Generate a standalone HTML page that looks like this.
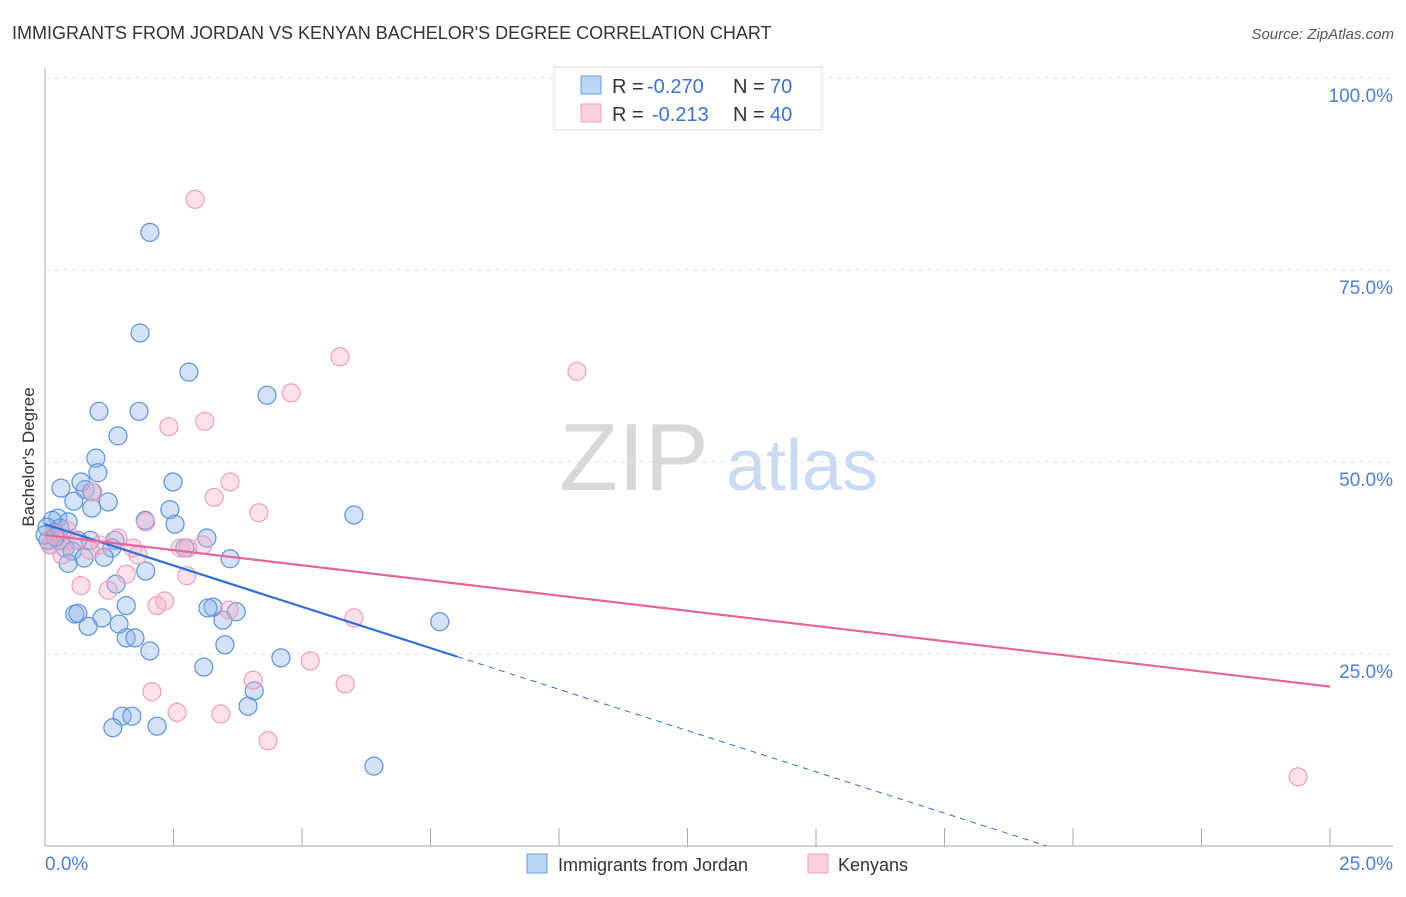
<!DOCTYPE html>
<html><head><meta charset="utf-8"><style>
body{margin:0;background:#fff;font-family:"Liberation Sans",sans-serif;}
svg text{font-family:"Liberation Sans",sans-serif;}
</style></head><body>
<svg id="chart" width="1406" height="892">
<text x="12" y="39" font-size="18" fill="#333">IMMIGRANTS FROM JORDAN VS KENYAN BACHELOR'S DEGREE CORRELATION CHART</text>
<text x="1394" y="39" font-size="15" fill="#555" font-style="italic" text-anchor="end">Source: ZipAtlas.com</text>
<g id="grid"></g>
<g>
<text x="634" y="490" font-size="96" fill="#d8d8d8" font-family="Liberation Serif" text-anchor="middle">ZIP</text>
<text x="802" y="490" font-size="72" fill="#c9daf3" text-anchor="middle">atlas</text>
</g>
<text transform="translate(34,457) rotate(-90)" font-size="17" fill="#333" text-anchor="middle">Bachelor's Degree</text>
<g id="pts"></g>
<g id="lines"></g>
<g>
<rect x="554" y="67" width="268" height="63" fill="#fff" stroke="#ddd"/>
<rect x="581" y="76" width="20" height="18" fill="#bcd5f5" stroke="#6a9ae0"/>
<rect x="581" y="104" width="20" height="18" fill="#fbcfdc" stroke="#eba3bd"/>
<text x="612" y="93" font-size="20" fill="#333">R =</text>
<text x="647" y="93" font-size="20" fill="#3b73d4">-0.270</text>
<text x="733" y="93" font-size="20" fill="#333">N =</text>
<text x="770" y="93" font-size="20" fill="#3b73d4">70</text>
<text x="612" y="121" font-size="20" fill="#333">R =</text>
<text x="652" y="121" font-size="20" fill="#3b73d4">-0.213</text>
<text x="733" y="121" font-size="20" fill="#333">N =</text>
<text x="770" y="121" font-size="20" fill="#3b73d4">40</text>
</g>
<g>
<rect x="527" y="854" width="20" height="19" fill="#bcd5f5" stroke="#6a9ae0"/>
<text x="558" y="871" font-size="18" fill="#333">Immigrants from Jordan</text>
<rect x="808" y="854" width="20" height="19" fill="#fbcfdc" stroke="#eba3bd"/>
<text x="838" y="871" font-size="18" fill="#333">Kenyans</text>
</g>
</svg>
<script>
const xTicks=[0,2.5,5,7.5,10,12.5,15,17.5,20,22.5,25];
const yTicks=[25,50,75,100];
const yTickLabels=["25.0%","50.0%","75.0%","100.0%"];
const blueX=[2.04,1.85,2.80,4.32,1.05,1.83,1.42,0.99,1.03,2.49,0.31,0.78,0.70,0.91,0.56,1.23,0.91,2.43,2.53,6.01,1.95,0.25,0.45,0.14,0.04,0.19,0.29,0.10,0.64,0.39,0.88,1.36,3.15,1.30,2.72,0.53,0.76,1.15,0.45,3.60,1.96,1.38,3.27,3.17,1.58,3.72,3.46,0.58,0.64,1.11,0.84,1.44,7.68,1.58,1.75,3.50,2.04,4.59,3.09,4.07,3.95,1.50,1.69,1.32,2.18,6.40,0.06,0.0,0.29,0.2];
const blueY=[79.9,66.8,61.7,58.7,56.6,56.6,53.4,50.5,48.6,47.4,46.6,46.4,47.4,46.1,44.9,44.8,44.0,43.8,41.9,43.1,42.4,42.7,42.2,42.4,41.5,40.8,39.8,39.2,39.8,38.8,39.8,39.8,40.1,38.8,38.8,38.4,37.5,37.6,36.8,37.4,35.8,34.1,31.1,31.0,31.3,30.5,29.4,30.2,30.3,29.7,28.6,28.9,29.2,27.1,27.1,26.2,25.4,24.5,23.3,20.2,18.2,16.9,16.9,15.4,15.6,10.4,39.8,40.5,41.4,40.2];
const pinkX=[2.92,5.74,10.35,4.79,3.11,2.41,3.60,3.29,0.93,4.16,1.96,0.43,0.16,0.88,1.42,0.33,1.71,2.63,2.78,3.07,0.56,1.81,2.76,1.58,0.70,1.23,2.33,2.18,3.58,6.01,5.16,4.05,5.84,2.08,2.57,3.42,4.34,24.38,0.10,1.07];
const pinkY=[84.2,63.7,61.8,59.0,55.3,54.6,47.4,45.4,46.1,43.4,42.2,41.1,40.6,38.5,40.1,37.9,38.8,38.8,38.8,39.2,39.8,37.9,35.2,35.4,33.9,33.3,31.9,31.3,30.7,29.7,24.1,21.6,21.1,20.1,17.4,17.2,13.7,9.0,39.2,39.2];
const blueTrend=[41.9,-2.15];
const pinkTrend=[40.5,-0.79];
const NS="http://www.w3.org/2000/svg";
const X=v=>45+v/25*1285, Y=v=>846-v/100*768;
function mk(tag,at,par){const e=document.createElementNS(NS,tag);for(const k in at)e.setAttribute(k,at[k]);par.appendChild(e);return e;}
const grid=document.getElementById('grid');
yTicks.forEach((t,i)=>{
 const l=mk('line',{x1:45,x2:1393,y1:Y(t),y2:Y(t),stroke:'#e3e3e3','stroke-dasharray':'5,4'},grid);
 
 
 const tx=mk('text',{x:1393,y:Y(t)+24,'font-size':19,fill:'#4a7fd6','text-anchor':'end'},grid);
 tx.textContent=yTickLabels[i];
 
 
});
const ax=mk('line',{x1:45,x2:45,y1:68,y2:846,stroke:'#aaa'},grid);


const bx=mk('line',{x1:45,x2:1393,y1:846,y2:846,stroke:'#aaa'},grid);


xTicks.forEach(t=>{const l=mk('line',{x1:X(t),x2:X(t),y1:828,y2:846,stroke:'#aaa'},grid);
 
 });
[[0,'0.0%','start',45],[25,'25.0%','end',1393]].forEach(a=>{const t=mk('text',{x:a[3],y:870,'font-size':19,fill:'#4a7fd6','text-anchor':a[2]},grid);t.textContent=a[1];
 
 });
const pts=document.getElementById('pts');
blueX.forEach((x,i)=>{const c=mk('circle',{cx:X(x),cy:Y(blueY[i]),r:9,fill:'rgba(140,180,235,0.38)',stroke:'#5e92de','stroke-width':1.2},pts);
 
 });
pinkX.forEach((x,i)=>{const c=mk('circle',{cx:X(x),cy:Y(pinkY[i]),r:9,fill:'rgba(245,170,195,0.35)',stroke:'#eaa0bb','stroke-width':1.2},pts);
 
 });
const lines=document.getElementById('lines');
const bf=x=>blueTrend[0]+blueTrend[1]*x, pf=x=>pinkTrend[0]+pinkTrend[1]*x;
const xEnd=-blueTrend[0]/blueTrend[1];
const l1=mk('line',{x1:X(0),y1:Y(bf(0)),x2:X(8.02),y2:Y(bf(8.02)),stroke:'#2f6fd6','stroke-width':2.2},lines);


const l2=mk('line',{x1:X(8.02),y1:Y(bf(8.02)),x2:X(xEnd),y2:Y(0),stroke:'#2f6fd6','stroke-width':1,'stroke-dasharray':'6,5'},lines);


const l3=mk('line',{x1:X(0),y1:Y(pf(0)),x2:X(25),y2:Y(pf(25)),stroke:'#e5659a','stroke-width':2.2},lines);


</script>
</body></html>
